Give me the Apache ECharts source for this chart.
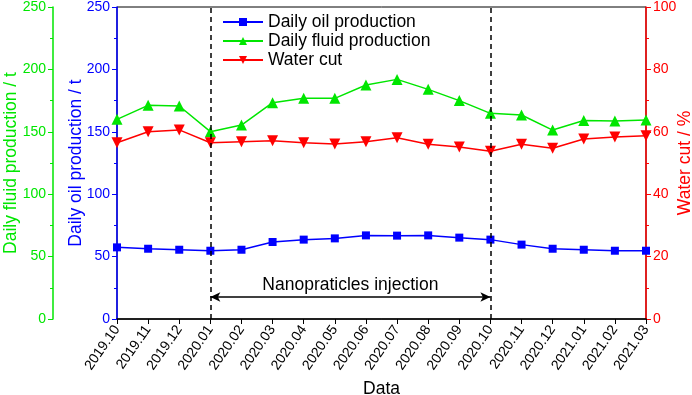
<!DOCTYPE html>
<html>
<head>
<meta charset="utf-8">
<script src="https://cdn.jsdelivr.net/npm/echarts@6/dist/echarts.min.js"></script>
<style>
  html, body { margin: 0; padding: 0; background: #fff; }
  #chart { width: 692px; height: 395px; }
</style>
</head>
<body>
<div id="chart"></div>
<script>
const months = ['2019.10', '2019.11', '2019.12', '2020.01', '2020.02', '2020.03', '2020.04', '2020.05', '2020.06',
  '2020.07', '2020.08', '2020.09', '2020.10', '2020.11', '2020.12', '2021.01', '2021.02', '2021.03'];
const oilProduction = [57.4, 56.3, 55.5, 54.7, 55.5, 61.7, 63.6, 64.6, 67.0, 66.8, 67.0, 65.2, 63.6, 59.6, 56.3, 55.5, 54.7, 54.7];
const fluidProduction = [160, 171.2, 170.7, 150.1, 155.4, 173.3, 176.8, 176.8, 187.5, 192, 184, 175, 164.8, 163.5, 151.4, 159, 158.7, 159.5];
const waterCut = [56.5, 60.0, 60.6, 56.5, 56.8, 57.1, 56.5, 56.1, 56.8, 58.1, 56.0, 55.1, 53.8, 56.0, 54.7, 57.7, 58.3, 58.7];
const injectionStart = '2020.01';
const injectionEnd = '2020.10';
const arrowLevel = 17.6; // on the oil axis

const FONT = 'Liberation Sans, Arial, sans-serif';
const BLUE = '#0000FF';
const GREEN = '#00E600';
const RED = '#FF0000';

function yAxisStyle(color, name, min, max, interval, extra) {
  return Object.assign({
    type: 'value',
    name: name,
    min: min,
    max: max,
    interval: interval,
    nameLocation: 'middle',
    nameMoveOverlap: false,
    nameTextStyle: { color: color, fontSize: 17.5, fontFamily: FONT },
    axisLine: { show: true, lineStyle: { color: color, width: 1.5 } },
    axisTick: { show: true, length: 5, lineStyle: { color: color } },
    minorTick: { show: true, splitNumber: 2, length: 3, lineStyle: { color: color } },
    axisLabel: { color: color, fontSize: 14, fontFamily: FONT, margin: 7 },
    splitLine: { show: false },
  }, extra);
}

const chart = echarts.init(document.getElementById('chart'));
chart.setOption({
  animation: false,
  grid: {
    left: 117, right: 46, top: 7, bottom: 76,
    outerBoundsMode: 'none',
    containLabel: false,
    show: true, borderColor: '#000', borderWidth: 1,
  },
  legend: {
    orient: 'vertical',
    left: 217,
    top: 8,
    itemWidth: 40,
    itemHeight: 10,
    itemGap: 1,
    textStyle: { color: '#000', fontSize: 17.5, fontFamily: FONT },
    data: ['Daily oil production', 'Daily fluid production', 'Water cut'],
  },
  xAxis: {
    type: 'category',
    data: months,
    boundaryGap: false,
    name: 'Data',
    nameLocation: 'middle',
    nameMoveOverlap: false,
    nameGap: 61,
    nameTextStyle: { color: '#000', fontSize: 17.5, fontFamily: FONT },
    axisLine: { lineStyle: { color: '#000', width: 1.5 } },
    axisTick: { show: true, length: 5, lineStyle: { color: '#000' } },
    axisLabel: { color: '#000', fontSize: 14, fontFamily: FONT, rotate: 55, margin: 8, interval: 0 },
    splitLine: { show: false },
  },
  yAxis: [
    yAxisStyle(BLUE, 'Daily oil production / t', 0, 250, 50, { position: 'left', nameGap: 32 }),
    yAxisStyle(GREEN, 'Daily fluid production / t', 0, 250, 50, { position: 'left', offset: 64, nameGap: 33 }),
    yAxisStyle(RED, 'Water cut / %', 0, 100, 20, { position: 'right', nameGap: 30 }),
  ],
  series: [
    {
      name: 'Daily oil production',
      type: 'line',
      yAxisIndex: 0,
      data: oilProduction,
      symbol: 'rect',
      symbolSize: 8,
      lineStyle: { color: BLUE, width: 1.5 },
      itemStyle: { color: BLUE },
      markLine: {
        silent: true,
        symbol: ['none', 'none'],
        label: { show: false },
        lineStyle: { color: '#000', type: [5, 4], width: 1.5 },
        data: [{ xAxis: injectionStart }, { xAxis: injectionEnd }],
      },
    },
    {
      name: 'Daily fluid production',
      type: 'line',
      yAxisIndex: 1,
      data: fluidProduction,
      symbol: 'triangle',
      symbolSize: 11,
      lineStyle: { color: GREEN, width: 1.5 },
      itemStyle: { color: GREEN },
      markLine: {
        silent: true,
        symbol: ['arrow', 'arrow'],
        symbolSize: [7, 10],
        lineStyle: { color: '#000', type: 'solid', width: 1.5 },
        label: {
          show: true,
          position: 'middle',
          formatter: 'Nanopraticles injection',
          color: '#000',
          fontSize: 17.5,
          fontFamily: FONT,
          distance: 3,
        },
        data: [[
          { coord: [injectionStart, arrowLevel] },
          { coord: [injectionEnd, arrowLevel] },
        ]],
      },
    },
    {
      name: 'Water cut',
      type: 'line',
      yAxisIndex: 2,
      data: waterCut,
      symbol: 'triangle',
      symbolRotate: 180,
      symbolSize: 11,
      lineStyle: { color: RED, width: 1.5 },
      itemStyle: { color: RED },
    },
  ],
});
</script>
</body>
</html>
